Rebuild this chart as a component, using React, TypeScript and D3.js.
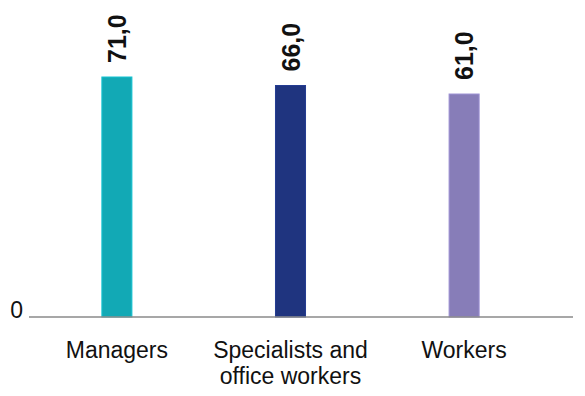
import * as d3 from 'd3'
import React from 'react'

const categories = ['Managers', 'Specialists and office workers', 'Workers']
const categoryLines = [['Managers'], ['Specialists and', 'office workers'], ['Workers']]
const values = [71.0, 66.0, 61.0]
const colors = ['#12a9b5', '#1f347f', '#877db8']
const yTickLabels = ['0']

const width = 585
const height = 396
const baseY = 317

const App: React.FC = () => {
  const x = d3.scaleBand<string>().domain(categories).range([30, 551]).paddingInner(0.827).paddingOuter(0.414)
  // the source chart does not start its bars from zero, keep its proportions
  const y = d3.scaleLinear().domain([-70, 71]).range([baseY, 77])
  const fmt = (v: number) => d3.format('.1f')(v).replace('.', ',')

  return (
    <svg width={width} height={height} style={{ position: 'absolute', left: 0, top: 0, fontFamily: 'Liberation Sans, Arial, sans-serif' }}>
      {categories.map((c, i) => {
        const bx = x(c) || 0
        const cx = bx + x.bandwidth() / 2
        const top = y(values[i])
        return (
          <g key={c}>
            <rect x={bx} y={top} width={x.bandwidth()} height={baseY - top} fill={colors[i]} stroke={d3.color(colors[i])!.brighter(0.4).toString()} strokeWidth={1} />
            <text
              transform={`translate(${cx},${top - 14}) rotate(-90)`}
              fontSize={25}
              fontWeight={600}
              dominantBaseline="central"
              fill="#111"
            >
              {fmt(values[i])}
            </text>
            {categoryLines[i].map((line, j) => (
              <text key={j} x={cx} y={358 + j * 26} textAnchor="middle" fontSize={23} fill="#111">
                {line}
              </text>
            ))}
          </g>
        )
      })}
      <line x1={29} x2={573} y1={baseY} y2={baseY} stroke="#8a8a8a" strokeWidth={1.5} />
      {yTickLabels.map((t) => (
        <text key={t} x={23} y={baseY + 1} textAnchor="end" fontSize={23} fill="#111">
          {t}
        </text>
      ))}
    </svg>
  )
}

export default App
